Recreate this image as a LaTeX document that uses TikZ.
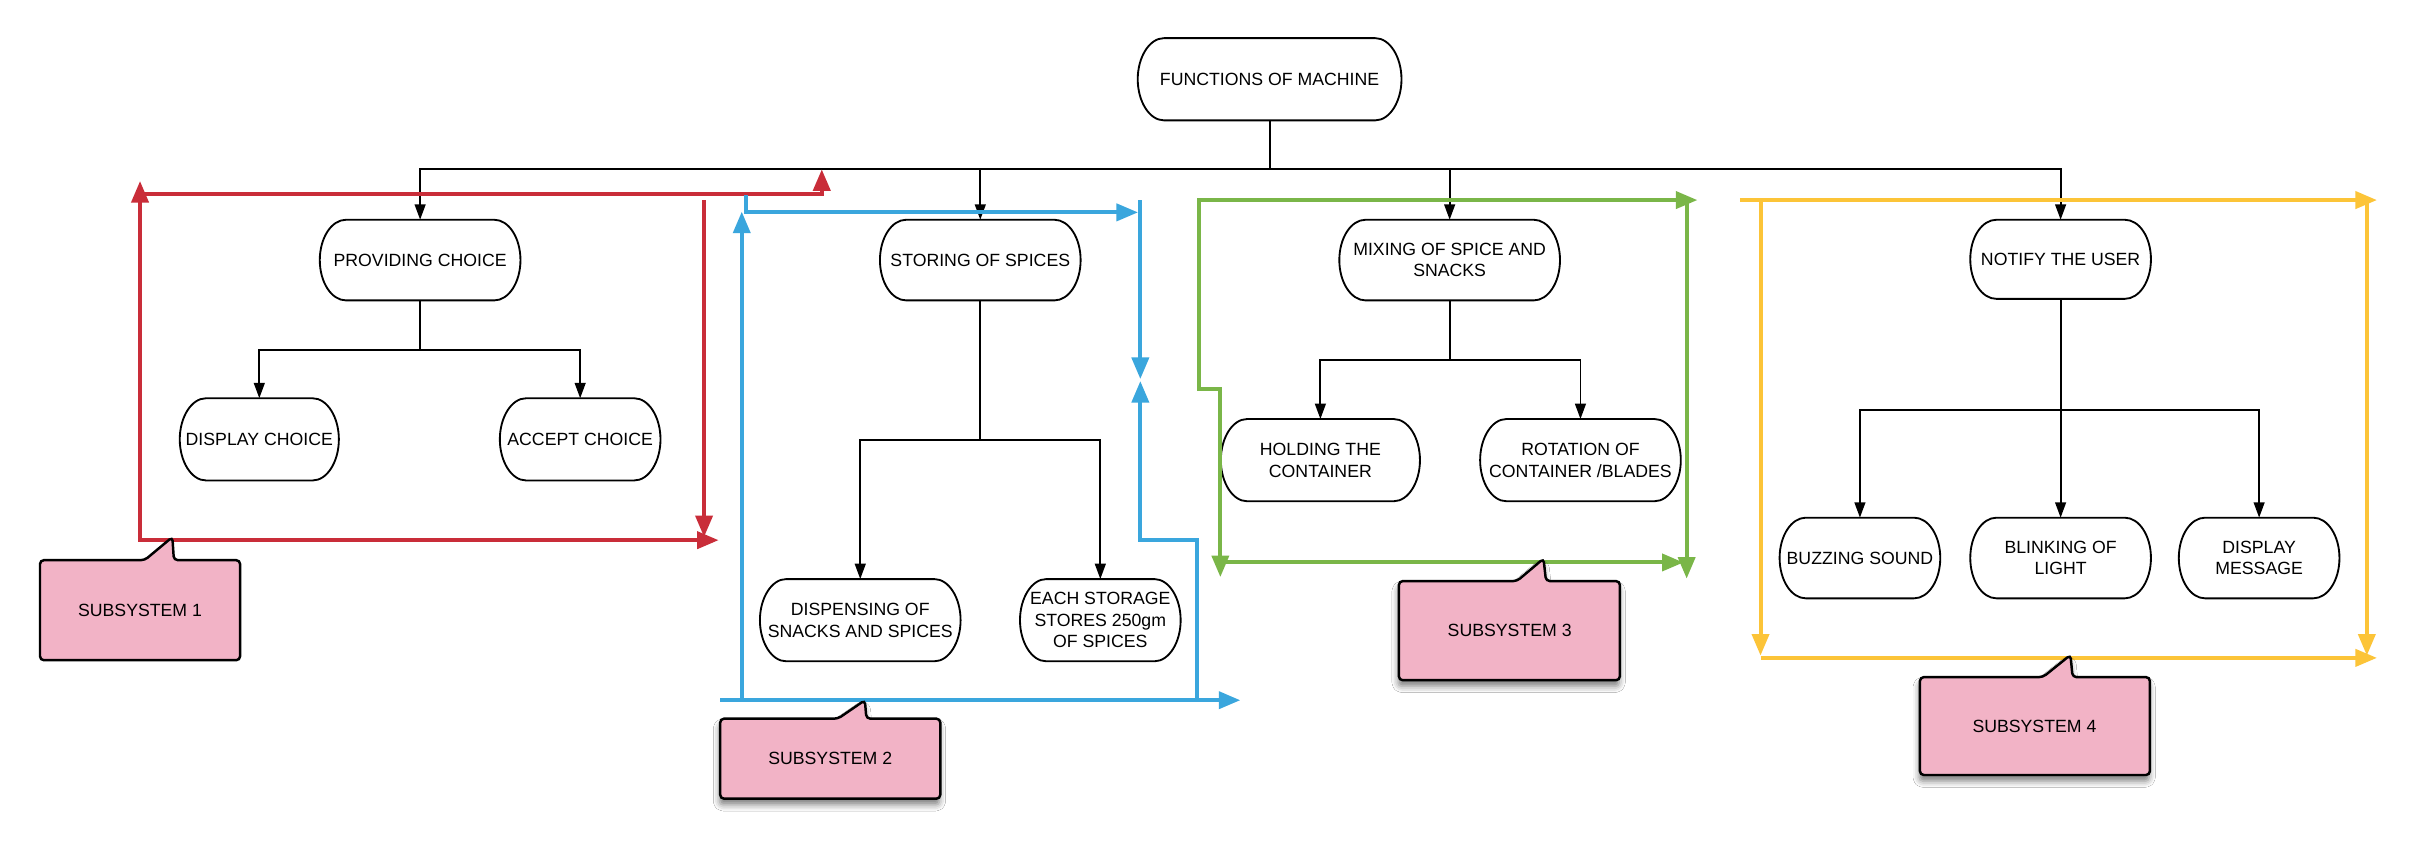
\documentclass[tikz,border=0pt]{standalone}
\usepackage{fontspec}
\setmainfont{Liberation Sans}
\usetikzlibrary{arrows.meta,shadows.blur}

\definecolor{sysred}{HTML}{C92D39}
\definecolor{sysblue}{HTML}{3AA6DD}
\definecolor{sysgreen}{HTML}{7AB648}
\definecolor{sysyellow}{HTML}{FCC438}
\definecolor{calloutpink}{HTML}{F2B3C6}

\tikzset{
  func/.style={align=center, inner sep=0pt, font=\fontsize{11.5}{14}\selectfont},
  funcline/.style={draw=black, line width=1.2pt},
  link/.style={draw=black, line width=1.25pt, -{Triangle[length=10pt,width=7pt]}},
  bound/.style={line width=2.6pt, -{Triangle[length=14pt,width=11pt]}},
  boundboth/.style={line width=2.6pt, {Triangle[length=14pt,width=11pt]}-{Triangle[length=14pt,width=11pt]}},
  callout/.style={fill=calloutpink, draw=black, line width=1.6pt, rounded corners=2.5pt},
  calloutshadow/.style={blur shadow={shadow xshift=-0.5pt, shadow yshift=-4pt,
    shadow blur radius=4pt, shadow opacity=50}},
  tag/.style={inner sep=0pt, font=\fontsize{11.5}{14}\selectfont}
}

\begin{document}
\begin{tikzpicture}[x=1pt, y=-1pt]
\useasboundingbox (0,0) rectangle (1568,546);
\fill[white] (0,0) rectangle (1568,546);

% function tree (text boxes; outlines are drawn below)
\node[func, minimum width=171pt, minimum height=53pt] (top) at (825,51.5) {FUNCTIONS OF MACHINE};

\node[func, minimum width=130pt, minimum height=52pt] (pc) at (273,169) {PROVIDING CHOICE};
\node[func, minimum width=103pt, minimum height=53pt] (dc) at (168.5,285.5) {DISPLAY CHOICE};
\node[func, minimum width=104pt, minimum height=53pt] (ac) at (377,285.5) {ACCEPT CHOICE};

\node[func, minimum width=130pt, minimum height=52pt] (st) at (637,169) {STORING OF SPICES};
\node[func, minimum width=130pt, minimum height=53pt] (ds) at (559,403) {DISPENSING OF\\SNACKS AND SPICES};
\node[func, minimum width=104pt, minimum height=53pt] (es) at (715,403) {EACH STORAGE\\STORES 250gm\\OF SPICES};

\node[func, minimum width=143pt, minimum height=52pt] (mx) at (942,169) {MIXING OF SPICE AND\\SNACKS};
\node[func, minimum width=129pt, minimum height=53pt] (ho) at (858,299) {HOLDING THE\\CONTAINER};
\node[func, minimum width=130pt, minimum height=53pt] (ro) at (1027,299) {ROTATION OF\\CONTAINER /BLADES};

\node[func, minimum width=117pt, minimum height=51pt] (nu) at (1339,168.5) {NOTIFY THE USER};
\node[func, minimum width=104pt, minimum height=52pt] (bz) at (1208.6,362.6) {BUZZING SOUND};
\node[func, minimum width=117pt, minimum height=52pt] (bl) at (1339,362.6) {BLINKING OF\\LIGHT};
\node[func, minimum width=104pt, minimum height=52pt] (dm) at (1468,362.6) {DISPLAY\\MESSAGE};

% terminator outlines with elliptical ends
\foreach \n in {top,pc,dc,ac,st,ds,es,mx,ho,ro,nu,bz,bl,dm}{
  \draw[funcline]
    ([xshift=17pt]\n.north west) -- ([xshift=-17pt]\n.north east)
    .. controls ([xshift=-7.6pt]\n.north east) and ([yshift=14.4pt]\n.east) .. (\n.east)
    .. controls ([yshift=-14.4pt]\n.east) and ([xshift=-7.6pt]\n.south east) .. ([xshift=-17pt]\n.south east)
    -- ([xshift=17pt]\n.south west)
    .. controls ([xshift=7.6pt]\n.south west) and ([yshift=-14.4pt]\n.west) .. (\n.west)
    .. controls ([yshift=14.4pt]\n.west) and ([xshift=7.6pt]\n.north west) .. ([xshift=17pt]\n.north west)
    -- cycle;
}

% main bus
\coordinate (bus) at (825,110);
\draw[link] (top.south) -- (bus) -| (pc.north);
\draw[link] (top.south) -- (bus) -| (st.north);
\draw[link] (top.south) -- (bus) -| (mx.north);
\draw[link] (top.south) -- (bus) -| (nu.north);

% sub-branches
\draw[link] (pc.south) -- ++(0,32) -| (dc.north);
\draw[link] (pc.south) -- ++(0,32) -| (ac.north);
\draw[link] (st.south) -- ++(0,91) -| (ds.north);
\draw[link] (st.south) -- ++(0,91) -| (es.north);
\draw[link] (mx.south) -- ++(0,39) -| (ho.north);
\draw[link] (mx.south) -- ++(0,39) -| (ro.north);
\draw[link] (nu.south) -- ++(0,72) -| (bz.north);
\draw[link] (nu.south) -- (bl.north);
\draw[link] (nu.south) -- ++(0,72) -| (dm.north);

% subsystem 1 boundary
\draw[boundboth, sysred] (91,117.6) -- (91,351) -- (467,351);
\draw[bound, sysred] (91,126) -- (534,126) -- (534,110);
\draw[bound, sysred] (457.5,130) -- (457.5,349);

% subsystem 2 boundary
\draw[bound, sysblue] (482,455) -- (482,137.5);
\draw[bound, sysblue] (468,455) -- (806,455);
\draw[bound, sysblue] (485,127) -- (485,138) -- (739.5,138);
\draw[bound, sysblue] (741,130) -- (741,246.3);
\draw[bound, sysblue] (778,455) -- (778,351) -- (741,351) -- (741,247.6);

% subsystem 3 boundary
\draw[boundboth, sysgreen] (1103,130) -- (779,130) -- (779,253) -- (793,253) -- (793,375);
\draw[bound, sysgreen] (1096,130) -- (1096,376);
\draw[bound, sysgreen] (793,365.5) -- (1094,365.5);

% subsystem 4 boundary
\draw[bound, sysyellow] (1130.6,130) -- (1544.6,130);
\draw[bound, sysyellow] (1144,130) -- (1144,426);
\draw[bound, sysyellow] (1538,130) -- (1538,426);
\draw[bound, sysyellow] (1144,427.5) -- (1544.6,427.5);

% callouts
\path[callout] (26,364) -- (94,364) -- (112,349) -- (113,364) -- (156,364) -- (156,429) -- (26,429) -- cycle;
\node[tag] (s1) at (91,396.5) {SUBSYSTEM 1};

\path[callout, calloutshadow] (468,467) -- (544.5,467) -- (562,455) -- (563,467) -- (611,467) -- (611,519) -- (468,519) -- cycle;
\node[tag] (s2) at (539.5,493) {SUBSYSTEM 2};

\path[callout, calloutshadow] (909,377.6) -- (985.7,377.6) -- (1003,363) -- (1004.6,377.6) -- (1052.6,377.6) -- (1052.6,442) -- (909,442) -- cycle;
\node[tag] (s3) at (981,409.8) {SUBSYSTEM 3};

\path[callout, calloutshadow] (1247.6,440) -- (1327.5,440) -- (1345.4,425.6) -- (1346.8,440) -- (1397,440) -- (1397,503.6) -- (1247.6,503.6) -- cycle;
\node[tag] (s4) at (1322,471.8) {SUBSYSTEM 4};

\end{tikzpicture}
\end{document}
